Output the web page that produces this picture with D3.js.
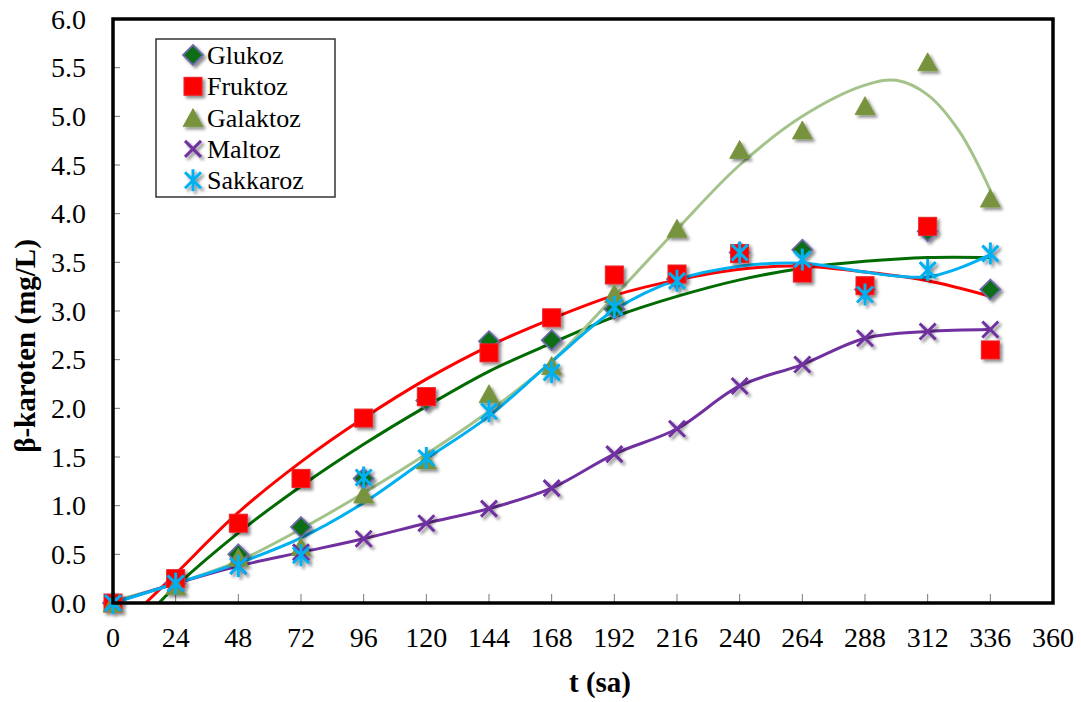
<!DOCTYPE html>
<html>
<head>
<meta charset="utf-8">
<script src="https://cdn.jsdelivr.net/npm/d3@7"></script>
<style>
  html, body { margin: 0; padding: 0; background: #fff; }
  svg { display: block; }
</style>
</head>
<body>
<svg id="chart" width="1081" height="702"></svg>
<script>
// Sampling times (hours) and measured β-carotene (mg/L) per sugar source
const hours    = [0, 24, 48, 72, 96, 120, 144, 168, 192, 216, 240, 264, 288, 312, 336];
const glukoz   = [0, 0.20, 0.50, 0.78, 1.28, 2.08, 2.69, 2.70, 3.02, 3.33, 3.60, 3.63, 3.22, 3.82, 3.22];
const fruktoz  = [0, 0.25, 0.82, 1.28, 1.90, 2.12, 2.57, 2.93, 3.37, 3.38, 3.59, 3.39, 3.26, 3.87, 2.60];
const galaktoz = [0, 0.18, 0.47, 0.58, 1.12, 1.47, 2.15, 2.44, 3.18, 3.85, 4.66, 4.86, 5.11, 5.56, 4.16];
const maltoz   = [0, 0.20, 0.38, 0.52, 0.66, 0.82, 0.97, 1.18, 1.53, 1.79, 2.23, 2.45, 2.72, 2.79, 2.81];
const sakkaroz = [0, 0.20, 0.38, 0.49, 1.29, 1.49, 1.97, 2.37, 3.04, 3.31, 3.60, 3.53, 3.17, 3.42, 3.59];

// Polynomial trend curves (sampled)
const glukozTrendT   = [17.6, 24, 48, 72, 96, 120, 144, 168, 192, 216, 240, 264, 288, 312, 336];
const glukozTrend    = [0, 0.17, 0.72, 1.20, 1.63, 2.02, 2.38, 2.67, 2.94, 3.15, 3.32, 3.44, 3.51, 3.55, 3.55];
const fruktozTrendT  = [12.5, 24, 48, 72, 96, 120, 144, 168, 192, 216, 240, 264, 288, 312, 336];
const fruktozTrend   = [0, 0.30, 0.93, 1.45, 1.90, 2.30, 2.64, 2.92, 3.16, 3.32, 3.43, 3.46, 3.40, 3.31, 3.15];
const galaktozTrendT = [0, 24, 48, 72, 96, 120, 144, 168, 192, 216, 240, 264, 288, 300, 312, 324, 336];
const galaktozTrend  = [0.02, 0.20, 0.43, 0.76, 1.13, 1.53, 1.97, 2.48, 3.15, 3.84, 4.50, 5.00, 5.32, 5.37, 5.22, 4.85, 4.24];
const sakkarozTrendT = [0, 24, 48, 72, 96, 120, 144, 168, 192, 216, 240, 264, 288, 300, 312, 324, 336];
const sakkarozTrend  = [0, 0.20, 0.41, 0.67, 1.03, 1.48, 1.92, 2.48, 3.01, 3.32, 3.46, 3.49, 3.40, 3.36, 3.35, 3.44, 3.58];

// Axis ticks
const xTicks = d3.range(0, 361, 24);
const yTicks = d3.range(0, 6.01, 0.5);

const FONT = "'Liberation Serif', 'Times New Roman', Times, 'DejaVu Serif', serif";

const svg = d3.select("#chart");
const plotL = 113, plotR = 1053, plotT = 19, plotB = 603;

const x = d3.scaleLinear().domain([0, 360]).range([plotL, plotR]);
const y = d3.scaleLinear().domain([0, 6]).range([plotB, plotT]);

const defs = svg.append("defs");
defs.append("clipPath").attr("id", "plotClip")
  .append("rect").attr("x", plotL).attr("y", plotT).attr("width", plotR - plotL).attr("height", plotB - plotT);
const shadow = defs.append("filter").attr("id", "shadow")
  .attr("x", "-50%").attr("y", "-50%").attr("width", "200%").attr("height", "200%");
shadow.append("feDropShadow").attr("dx", 2.5).attr("dy", 2.5).attr("stdDeviation", 1.6)
  .attr("flood-color", "#000").attr("flood-opacity", 0.45);

// Tick marks (inward)
svg.append("g").selectAll("line").data(yTicks).join("line")
  .attr("x1", plotL).attr("x2", plotL + 7)
  .attr("y1", d => y(d)).attr("y2", d => y(d))
  .attr("stroke", "#777").attr("stroke-width", 1);
svg.append("g").selectAll("line").data(xTicks).join("line")
  .attr("x1", d => x(d)).attr("x2", d => x(d))
  .attr("y1", plotB).attr("y2", plotB - 9)
  .attr("stroke", "#777").attr("stroke-width", 1);

// Tick labels
svg.append("g").selectAll("text").data(yTicks).join("text")
  .attr("x", 86).attr("y", d => y(d) + 9.5)
  .attr("text-anchor", "end").attr("font-size", 28).attr("font-family", FONT)
  .text(d => d3.format(".1f")(d));
svg.append("g").selectAll("text").data(xTicks).join("text")
  .attr("x", d => x(d)).attr("y", 647)
  .attr("text-anchor", "middle").attr("font-size", 28).attr("font-family", FONT)
  .text(d => d);

// Axis titles
svg.append("text").attr("x", 600).attr("y", 692)
  .attr("text-anchor", "middle").attr("font-size", 29).attr("font-weight", "bold").attr("font-family", FONT)
  .text("t (sa)");
svg.append("text").attr("transform", "translate(35,346) rotate(-90)")
  .attr("text-anchor", "middle").attr("font-size", 29).attr("font-weight", "bold").attr("font-family", FONT)
  .text("β-karoten (mg/L)");

// Lines
const plot = svg.append("g").attr("clip-path", "url(#plotClip)");
const trend = d3.line().x(d => x(d[0])).y(d => y(d[1])).curve(d3.curveCatmullRom.alpha(0.5));
const zip = (a, b) => a.map((v, i) => [v, b[i]]);

const lineSpecs = [
  { pts: zip(glukozTrendT, glukozTrend), color: "#006B00" },
  { pts: zip(fruktozTrendT, fruktozTrend), color: "#FF0000" },
  { pts: zip(galaktozTrendT, galaktozTrend), color: "#A3C38A" },
  { pts: zip(hours, maltoz), color: "#7030A0" },
  { pts: zip(sakkarozTrendT, sakkarozTrend), color: "#00B0F0" }
];
plot.selectAll("path.trend").data(lineSpecs).join("path")
  .attr("class", "trend")
  .attr("d", d => trend(d.pts))
  .attr("fill", "none").attr("stroke", d => d.color).attr("stroke-width", 3)
  .attr("stroke-linejoin", "round");

// Marker shapes
function drawMarker(g, type) {
  if (type === "diamond") {
    g.append("path").attr("d", "M0,-10L10,0L0,10L-10,0Z")
      .attr("fill", "#0A6E12").attr("stroke", "#6B6BA8").attr("stroke-width", 1.8);
  } else if (type === "square") {
    g.append("rect").attr("x", -9).attr("y", -9).attr("width", 18).attr("height", 18)
      .attr("fill", "#FF0000").attr("stroke", "#E8262A").attr("stroke-width", 1);
  } else if (type === "triangle") {
    g.append("path").attr("d", "M0,-9L10,9L-10,9Z")
      .attr("fill", "#77933C").attr("stroke", "#77933C").attr("stroke-width", 0.8);
  } else if (type === "x") {
    g.append("path").attr("d", "M-8,-8L8,8M-8,8L8,-8")
      .attr("stroke", "#7030A0").attr("stroke-width", 3).attr("fill", "none");
  } else if (type === "star") {
    g.append("path").attr("d", "M-8,-8L8,8M-8,8L8,-8M0,-11L0,11")
      .attr("stroke", "#00B0F0").attr("stroke-width", 3).attr("fill", "none");
  }
}

const series = [
  { name: "Glukoz", values: glukoz, marker: "diamond" },
  { name: "Fruktoz", values: fruktoz, marker: "square" },
  { name: "Galaktoz", values: galaktoz, marker: "triangle" },
  { name: "Maltoz", values: maltoz, marker: "x" },
  { name: "Sakkaroz", values: sakkaroz, marker: "star" }
];

const markers = svg.append("g").attr("filter", "url(#shadow)");
series.forEach(s => {
  hours.forEach((t, i) => {
    const g = markers.append("g").attr("transform", `translate(${x(t)},${y(s.values[i])})`);
    drawMarker(g, s.marker);
  });
});

// Plot frame
svg.append("rect").attr("x", plotL).attr("y", plotT)
  .attr("width", plotR - plotL).attr("height", plotB - plotT)
  .attr("fill", "none").attr("stroke", "#000").attr("stroke-width", 3.5);

// Legend
const legend = svg.append("g");
legend.append("rect").attr("x", 156).attr("y", 39).attr("width", 179).attr("height", 158)
  .attr("fill", "#fff").attr("stroke", "#333").attr("stroke-width", 1.5);
series.forEach((s, i) => {
  const cy = 55 + i * 31.3;
  const g = legend.append("g").attr("transform", `translate(193,${cy})`).attr("filter", "url(#shadow)");
  drawMarker(g, s.marker);
  legend.append("text").attr("x", 207).attr("y", cy + 9)
    .attr("font-size", 26).attr("font-family", FONT).text(s.name);
});
</script>
</body>
</html>
